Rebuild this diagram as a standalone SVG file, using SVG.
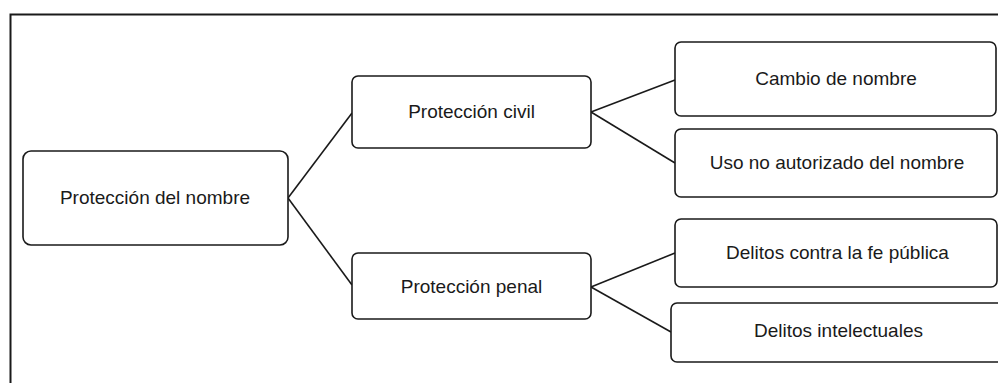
<svg xmlns="http://www.w3.org/2000/svg" width="998" height="383" viewBox="0 0 998 383">
<style>
.box{fill:#fff;stroke:#1a1a1a;stroke-width:1.6}
.lbl{font-family:"Liberation Sans",Arial,sans-serif;font-size:19px;fill:#1a1a1a;text-anchor:middle}
.con{stroke:#1a1a1a;stroke-width:1.6;fill:none}
</style>
<rect x="0" y="0" width="998" height="383" fill="#fff"/>
<path d="M10.5,390 V14.5 H1010" fill="none" stroke="#1a1a1a" stroke-width="2"/>
<g id="connectors">
<line class="con" x1="288" y1="198" x2="352" y2="113"/>
<line class="con" x1="288" y1="198" x2="352" y2="285"/>
<line class="con" x1="591" y1="112" x2="675" y2="80"/>
<line class="con" x1="591" y1="112" x2="675" y2="163"/>
<line class="con" x1="591" y1="287" x2="675" y2="253"/>
<line class="con" x1="591" y1="287" x2="671" y2="332"/>
</g>
<g id="root">
<rect class="box" x="23" y="151" width="265" height="94" rx="8"/>
<text class="lbl" x="155" y="204">Protección del nombre</text>
</g>
<g id="civil">
<rect class="box" x="352" y="76" width="239" height="72" rx="6"/>
<text class="lbl" x="471.5" y="118">Protección civil</text>
</g>
<g id="penal">
<rect class="box" x="352" y="253" width="239" height="66" rx="6"/>
<text class="lbl" x="471.5" y="293">Protección penal</text>
</g>
<g id="cambio">
<rect class="box" x="675" y="42" width="321" height="74" rx="6"/>
<text class="lbl" x="836" y="85">Cambio de nombre</text>
</g>
<g id="uso">
<rect class="box" x="675" y="129" width="322" height="68" rx="6"/>
<text class="lbl" x="837" y="169">Uso no autorizado del nombre</text>
</g>
<g id="fe">
<rect class="box" x="675" y="219" width="322" height="68" rx="6"/>
<text class="lbl" x="837.5" y="259">Delitos contra la fe pública</text>
</g>
<g id="intel">
<rect class="box" x="671" y="303" width="340" height="59" rx="6"/>
<text class="lbl" x="838.5" y="337">Delitos intelectuales</text>
</g>
</svg>
